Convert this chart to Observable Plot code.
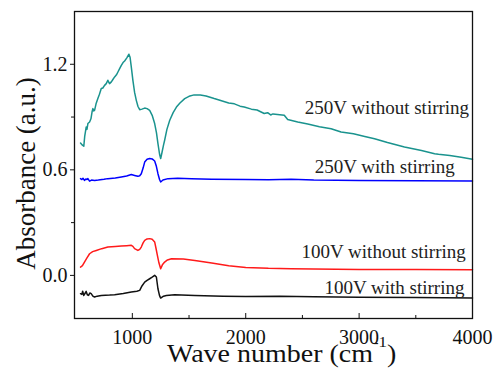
<!DOCTYPE html>
<html><head><meta charset="utf-8">
<script src="https://cdn.jsdelivr.net/npm/d3@7"></script>
<script src="https://cdn.jsdelivr.net/npm/@observablehq/plot@0.6"></script>
<style>
body{margin:0;background:#fff}
svg, svg text{font-family:"Liberation Serif","Times New Roman",serif !important}
</style>
</head><body><div id="chart"></div>
<script>
// ---- data ----
const seriesNames = ["250V without stirring", "250V with stirring", "100V without stirring", "100V with stirring"];
const seriesColors = ["#1a938e", "#0000ff", "#ff1a1a", "#111111"];

const wave250NoStir = [543,560,572,580,593,600,608,623,635,645,652,660,667,680,696,710,726,740,755,770,784,799,815,830,844,860,873,888,903,918,932,950,970,980,990,1005,1020,1035,1050,1065,1085,1109,1130,1153,1175,1197,1213,1226,1240,1250,1262,1275,1285,1305,1330,1360,1389,1420,1462,1500,1545,1600,1650,1722,1800,1850,1900,1950,1987,2050,2100,2163,2193,2220,2240,2280,2320,2340,2370,2459,2547,2650,2753,2841,2950,3050,3136,3250,3400,3550,3666,3700,3800,3900,4000];
const abs250NoStir  = [0.752,0.74,0.734,0.79,0.843,0.83,0.863,0.872,0.89,0.93,0.948,0.935,0.938,0.975,1.005,1.03,1.062,1.065,1.08,1.09,1.109,1.09,1.10,1.115,1.128,1.14,1.156,1.175,1.194,1.21,1.219,1.235,1.257,1.24,1.19,1.109,1.04,0.995,0.96,0.942,0.945,0.951,0.948,0.938,0.91,0.863,0.81,0.749,0.69,0.664,0.70,0.74,0.768,0.83,0.882,0.925,0.957,0.98,1.005,1.018,1.026,1.026,1.02,1.005,0.99,0.98,0.975,0.962,0.957,0.945,0.94,0.92,0.925,0.912,0.918,0.915,0.912,0.91,0.886,0.872,0.86,0.845,0.834,0.815,0.805,0.79,0.777,0.755,0.73,0.71,0.692,0.688,0.682,0.672,0.66];

const wave250Stir = [543,555,565,578,590,600,608,623,640,667,700,750,784,850,903,950,991,1020,1049,1065,1079,1095,1109,1130,1153,1175,1197,1212,1226,1240,1250,1270,1315,1400,1521,1700,2000,2200,2400,2600,3000,3500,4000];
const abs250Stir  = [0.550,0.545,0.552,0.540,0.548,0.545,0.550,0.536,0.542,0.540,0.542,0.546,0.550,0.553,0.559,0.565,0.573,0.568,0.563,0.566,0.578,0.61,0.644,0.660,0.664,0.662,0.650,0.62,0.578,0.545,0.531,0.542,0.55,0.552,0.55,0.547,0.545,0.543,0.546,0.542,0.54,0.538,0.536];

const wave100NoStir = [543,560,578,600,623,650,682,730,784,850,903,950,991,1005,1020,1049,1065,1079,1095,1109,1130,1153,1175,1197,1210,1221,1235,1250,1265,1285,1310,1345,1450,1551,1700,1850,2000,2200,2400,2600,3000,3500,4000];
const abs100NoStir  = [0.047,0.055,0.076,0.10,0.123,0.135,0.142,0.152,0.161,0.164,0.167,0.169,0.171,0.165,0.152,0.142,0.148,0.161,0.185,0.199,0.207,0.209,0.205,0.190,0.15,0.114,0.07,0.038,0.06,0.076,0.088,0.095,0.093,0.085,0.07,0.055,0.045,0.04,0.038,0.036,0.034,0.033,0.032];

const wave100Stir = [543,555,562,572,585,593,603,614,625,637,652,667,690,726,800,844,920,991,1040,1065,1085,1109,1130,1153,1175,1197,1212,1226,1240,1250,1275,1300,1374,1551,1800,2000,2300,2600,3000,3500,4000];
const abs100Stir  = [-0.104,-0.108,-0.09,-0.114,-0.10,-0.091,-0.11,-0.114,-0.10,-0.104,-0.118,-0.123,-0.118,-0.114,-0.112,-0.110,-0.103,-0.095,-0.09,-0.085,-0.06,-0.038,-0.028,-0.019,-0.010,0.0,-0.009,-0.076,-0.115,-0.129,-0.118,-0.114,-0.110,-0.114,-0.118,-0.12,-0.118,-0.122,-0.124,-0.126,-0.129];

const xMajorTicks = [1000, 2000, 3000, 4000];
const xMinorTicks = [1500, 2500, 3500];
const yMajorTicks = [0.0, 0.6, 1.2];
const yMinorTicks = [0.3, 0.9];

// annotation anchors (data space) for the series labels
const labelX = [3970, 3843, 3941, 3929];
const labelY = [0.951, 0.617, 0.133, -0.069];

// ---- build tables ----
const waves = [wave250NoStir, wave250Stir, wave100NoStir, wave100Stir];
const absorb = [abs250NoStir, abs250Stir, abs100NoStir, abs100Stir];
const rows = seriesNames.flatMap((name, s) => waves[s].map((w, i) => ({series: name, wave: w, abs: absorb[s][i]})));
const labels = seriesNames.map((name, i) => ({text: name, x: labelX[i], y: labelY[i]}));

const font = '"Liberation Serif","Times New Roman",serif';

const chart = Plot.plot({
  width: 495, height: 368,
  marginLeft: 74, marginRight: 23, marginTop: 11, marginBottom: 50,
  style: {fontFamily: font, fontSize: "20px", color: "#111", background: "#fff", overflow: "visible"},
  x: {domain: [490, 4000]},
  y: {domain: [-0.245, 1.50]},
  color: {domain: seriesNames, range: seriesColors},
  marks: [
    Plot.lineY(rows, {x: "wave", y: "abs", z: "series", stroke: "series", strokeWidth: 1.5, curve: "linear"}),
    Plot.axisY({ticks: yMajorTicks, tickFormat: d => d.toFixed(1), tickSize: 4, tickPadding: 3, label: null, stroke: "#111", fill: "#111", fontSize: 20, fontFamily: font}),
    Plot.axisY({ticks: yMinorTicks, tickFormat: () => "", tickSize: 3, label: null, stroke: "#111"}),
    Plot.axisX({ticks: xMajorTicks, tickFormat: d => String(d), tickSize: 0, tickPadding: 11, label: null, fill: "#111", fontSize: 20, fontFamily: font}),
    Plot.ruleX(xMajorTicks, {stroke: "#111", strokeWidth: 1, insetTop: 302}),
    Plot.ruleX(xMinorTicks, {stroke: "#111", strokeWidth: 1, insetTop: 304}),
    Plot.frame({stroke: "#111", strokeWidth: 1.3}),
    Plot.text(labels, {x: "x", y: "y", text: "text", textAnchor: "end", fontSize: 19, fill: "#222", fontFamily: font})
  ]
});

const svg = d3.select(chart);
svg.append("text")
  .attr("transform", "translate(35,173.5) rotate(-90)")
  .attr("text-anchor", "middle")
  .attr("font-size", 27)
  .attr("font-family", font)
  .attr("fill", "#111")
  .text("Absorbance (a.u.)");
const xt = svg.append("text")
  .attr("transform", "translate(167,362) scale(1.12,1)")
  .attr("text-anchor", "start")
  .attr("font-size", 25)
  .attr("font-family", font)
  .attr("fill", "#111");
xt.append("tspan").text("Wave number (cm");
xt.append("tspan").attr("font-size", 15).attr("dy", -15).text("-1");
xt.append("tspan").attr("dy", 15).text(")");

document.getElementById("chart").appendChild(chart);
</script>
</body></html>
